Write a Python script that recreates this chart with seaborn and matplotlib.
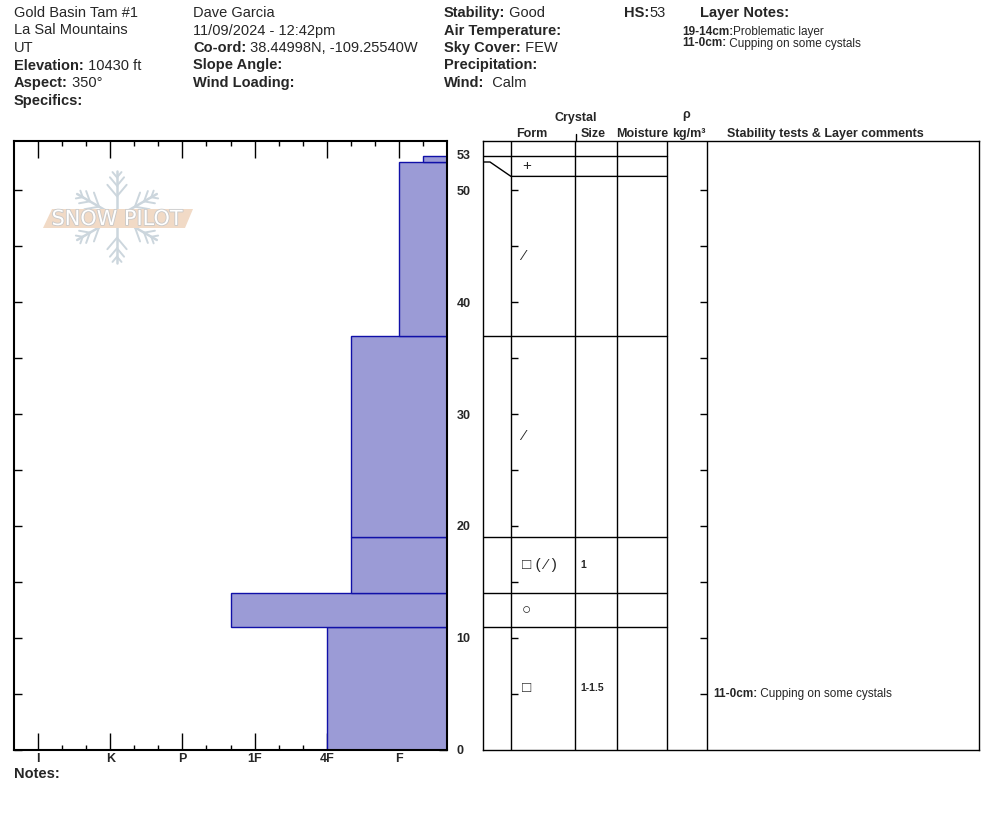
import numpy as np
import pandas as pd
import matplotlib
matplotlib.use("Agg")
import matplotlib.pyplot as plt
import matplotlib.patheffects as pe
from matplotlib.patches import Polygon
import seaborn as sns

# ---------------------------------------------------------------
# Header info
# ---------------------------------------------------------------
site_lines = ["Gold Basin Tam #1", "La Sal Mountains", "UT"]
col1_labels = ["Elevation:", "Aspect:", "Specifics:"]
col1_values = ["10430 ft", "350°", ""]
obs_lines = ["Dave Garcia", "11/09/2024 - 12:42pm"]
col2_labels = ["Co-ord:", "Slope Angle:", "Wind Loading:"]
col2_values = ["38.44998N, -109.25540W", "", ""]
col3_labels = ["Stability:", "Air Temperature:", "Sky Cover:", "Precipitation:", "Wind:"]
col3_values = ["Good", "", "FEW", "", " Calm"]
hs = 53

# ---------------------------------------------------------------
# Layer data (cm from ground)
# ---------------------------------------------------------------
layer_top = [53, 52.5, 37, 19, 14, 11]
layer_bottom = [52.5, 37, 19, 14, 11, 0]
hardness = ["F-", "F", "4F-", "4F-", "1F+", "4F"]
grain_form = ["+", "⁄", "⁄", "□ ( ⁄ )", "○", "□"]
grain_size = ["", "", "", "1", "", "1-1.5"]
layer_notes = ["", "", "", "Problematic layer", "", " Cupping on some cystals"]
layer_comments = ["", "", "", "", "", " Cupping on some cystals"]

hardness_scale = ["F-", "F", "F+", "4F-", "4F", "4F+", "1F-", "1F", "1F+",
                  "P-", "P", "P+", "K-", "K", "K+", "I-", "I"]
hardness_labels = ["F", "4F", "1F", "P", "K", "I"]

sns.set_theme(style="white")
plt.rcParams['font.family'] = ['Liberation Sans', 'DejaVu Sans']

W, H = 994, 840
fig = plt.figure(figsize=(W / 100, H / 100), dpi=100)

PX_PER_CM = 11.2
plot_top, plot_bot = 141, 750
ymax = (plot_bot - plot_top) / PX_PER_CM

def axrect(x0, x1):
    return [x0 / W, (H - plot_bot) / H, (x1 - x0) / W, (plot_bot - plot_top) / H]

# ---------------------------------------------------------------
# Hardness profile (left)
# ---------------------------------------------------------------
ax = fig.add_axes(axrect(14, 447))
df = pd.DataFrame({
    "mid": [(t + b) / 2 for t, b in zip(layer_top, layer_bottom)],
    "hard": [hardness_scale.index(h) + 1 for h in hardness],
})
edges = sorted(set(layer_top + layer_bottom))
sns.histplot(data=df, y="mid", weights="hard", bins=edges, ax=ax,
             color="#9b9bd6", edgecolor="#1010a8", linewidth=1, alpha=1)
ax.set_xlim(len(hardness_scale) + 1, 0)
ax.set_ylim(0, ymax)
ax.set_xlabel("")
ax.set_ylabel("")

major = [hardness_scale.index(h) + 1 for h in hardness_labels]
ax.set_xticks(major)
ax.set_xticklabels(hardness_labels)
ax.set_xticks([i for i in range(1, len(hardness_scale) + 1) if i not in major], minor=True)
ax.tick_params(axis="x", which="major", direction="in", length=12, width=1,
               top=True, bottom=True, labelsize=9, pad=2, color="black")
ax.tick_params(axis="x", which="minor", direction="in", length=3.6, width=1,
               top=True, bottom=True, color="black")
yt = np.arange(0, 51, 5)
ax.set_yticks(yt)
ax.set_yticklabels([str(v) if v % 10 == 0 else "" for v in yt])
ax.tick_params(axis="y", direction="in", length=5.8, width=1, left=True, right=True,
               labelleft=False, labelright=True, labelsize=9, pad=7, color="black")
for lab in ax.get_xticklabels() + ax.get_yticklabels():
    lab.set_fontweight("bold")
ax.annotate(str(hs), xy=(1, hs), xycoords=ax.get_yaxis_transform(), xytext=(7, 0),
            textcoords="offset points", va="center", ha="left", fontsize=9, fontweight="bold")
for s in ax.spines.values():
    s.set_linewidth(1.5)
    s.set_color("black")

# ---------------------------------------------------------------
# Layer table (right)
# ---------------------------------------------------------------
tx = fig.add_axes(axrect(483, 979))
tx.set_xlim(483, 979)
tx.set_ylim(0, ymax)
tx.set_xticks([])
tx.set_yticks([])
for s in tx.spines.values():
    s.set_linewidth(1)
    s.set_color("black")

col_x = [511, 575, 617, 667, 707]
tx.vlines(col_x, 0, ymax, color="black", lw=1)

# rows are stretched so that each one is at least 20 px tall
min_row = 20 / PX_PER_CM
disp_top, disp_bot = [], []
cur = layer_top[0]
for t, b in zip(layer_top, layer_bottom):
    disp_top.append(cur)
    cur = min(b, cur - min_row)
    disp_bot.append(cur)

tx.plot([483, 667], [hs, hs], color="black", lw=1)
for b, db in zip(layer_bottom[:-1], disp_bot[:-1]):
    tx.plot([483, 490, 511, 667], [b, b, db, db], color="black", lw=1)

ticks5 = np.arange(5, 51, 5)
tx.hlines(ticks5, 511, 518, color="black", lw=1)
tx.hlines(ticks5, 700, 707, color="black", lw=1)

for i in range(len(layer_top)):
    mid = (disp_top[i] + disp_bot[i]) / 2
    tx.text(522, mid, grain_form[i], fontsize=11, va="center", ha="left")
    if grain_size[i]:
        tx.text(580, mid, grain_size[i], fontsize=7.5, va="center", ha="left", fontweight="bold")
    if layer_comments[i]:
        t = tx.text(713, mid, f"{layer_top[i]:g}-{layer_bottom[i]:g}cm:", fontsize=8.5,
                    fontweight="bold", va="top", ha="left")
        tx.annotate(layer_comments[i], xy=(1, 0), xycoords=t, va="bottom", ha="left", fontsize=8.5)

# ---------------------------------------------------------------
# Text overlay in pixel coordinates
# ---------------------------------------------------------------
bg = fig.add_axes([0, 0, 1, 1])
bg.set_xlim(0, W)
bg.set_ylim(H, 0)
bg.axis("off")
bg.patch.set_alpha(0)

FS = 10.5
LINE = 17.5

def pair(x, y, label, value, fs=FS):
    t = bg.text(x, y, label, fontsize=fs, fontweight="bold", va="baseline", ha="left")
    if value:
        bg.annotate(value, xy=(1, 0), xycoords=t, va="bottom", ha="left", fontsize=fs)

for i, s in enumerate(site_lines):
    bg.text(14, 17 + i * LINE, s, fontsize=FS, va="baseline")
for i, (l, v) in enumerate(zip(col1_labels, col1_values)):
    pair(14, 17 + (i + 3) * LINE, l, " " + v if v else "")

for i, s in enumerate(obs_lines):
    bg.text(193, 17 + i * LINE, s, fontsize=FS, va="baseline")
for i, (l, v) in enumerate(zip(col2_labels, col2_values)):
    pair(193, 17 + (i + 2) * LINE, l, " " + v if v else "")

for i, (l, v) in enumerate(zip(col3_labels, col3_values)):
    pair(444, 17 + i * LINE, l, " " + v if v else "")

pair(624, 17, "HS:", str(hs))
bg.text(700, 17, "Layer Notes:", fontsize=FS, fontweight="bold", va="baseline")
k = 0
for t_, b_, note in zip(layer_top, layer_bottom, layer_notes):
    if note:
        pair(682, 35 + k * 11.5, f"{t_:g}-{b_:g}cm:", note, fs=8.5)
        k += 1

# table headers
hdr = dict(fontsize=9, fontweight="bold", ha="center", va="baseline")
bg.text(576, 121, "Crystal", **hdr)
bg.text(532, 137, "Form", **hdr)
bg.text(593, 137, "Size", **hdr)
bg.text(642, 137, "Moisture", **hdr)
bg.text(686, 118, "ρ", **hdr)
bg.text(689, 137, "kg/m³", **hdr)
bg.text(727, 137, "Stability tests & Layer comments", fontsize=9, fontweight="bold",
        ha="left", va="baseline")
bg.plot([576, 576], [134, 141], color="black", lw=1)

bg.text(14, 778, "Notes:", fontsize=FS, fontweight="bold", va="baseline")

# SnowPilot logo: six-armed snowflake drawn with line strokes, banner on top
cx, cy, arm = 117, 217, 46
flake = "#ccd6dd"
for ang in np.deg2rad(np.arange(90, 450, 60)):
    d = np.array([np.cos(ang), -np.sin(ang)])
    bg.plot([cx, cx + arm * d[0]], [cy, cy + arm * d[1]], color=flake, lw=1.8, zorder=1)
    for frac, blen in [(0.45, 15), (0.68, 11), (0.86, 7)]:
        p = np.array([cx, cy]) + frac * arm * d
        for side in (-1, 1):
            a2 = ang + side * np.deg2rad(40)
            d2 = np.array([np.cos(a2), -np.sin(a2)])
            bg.plot([p[0], p[0] + blen * d2[0]], [p[1], p[1] + blen * d2[1]],
                    color=flake, lw=1.4, zorder=1)
bg.add_patch(Polygon([(52, 209), (193, 209), (185, 228), (43, 228)], closed=True,
                     facecolor="#f1dac6", edgecolor="none", zorder=2))
bg.text(117, 219, "SNOW PILOT", fontsize=15, color="white", ha="center", va="center",
        family="DejaVu Sans", zorder=3,
        path_effects=[pe.withStroke(linewidth=1.2, foreground="#c8c8c8")])

fig.savefig("out.png", dpi=100)
